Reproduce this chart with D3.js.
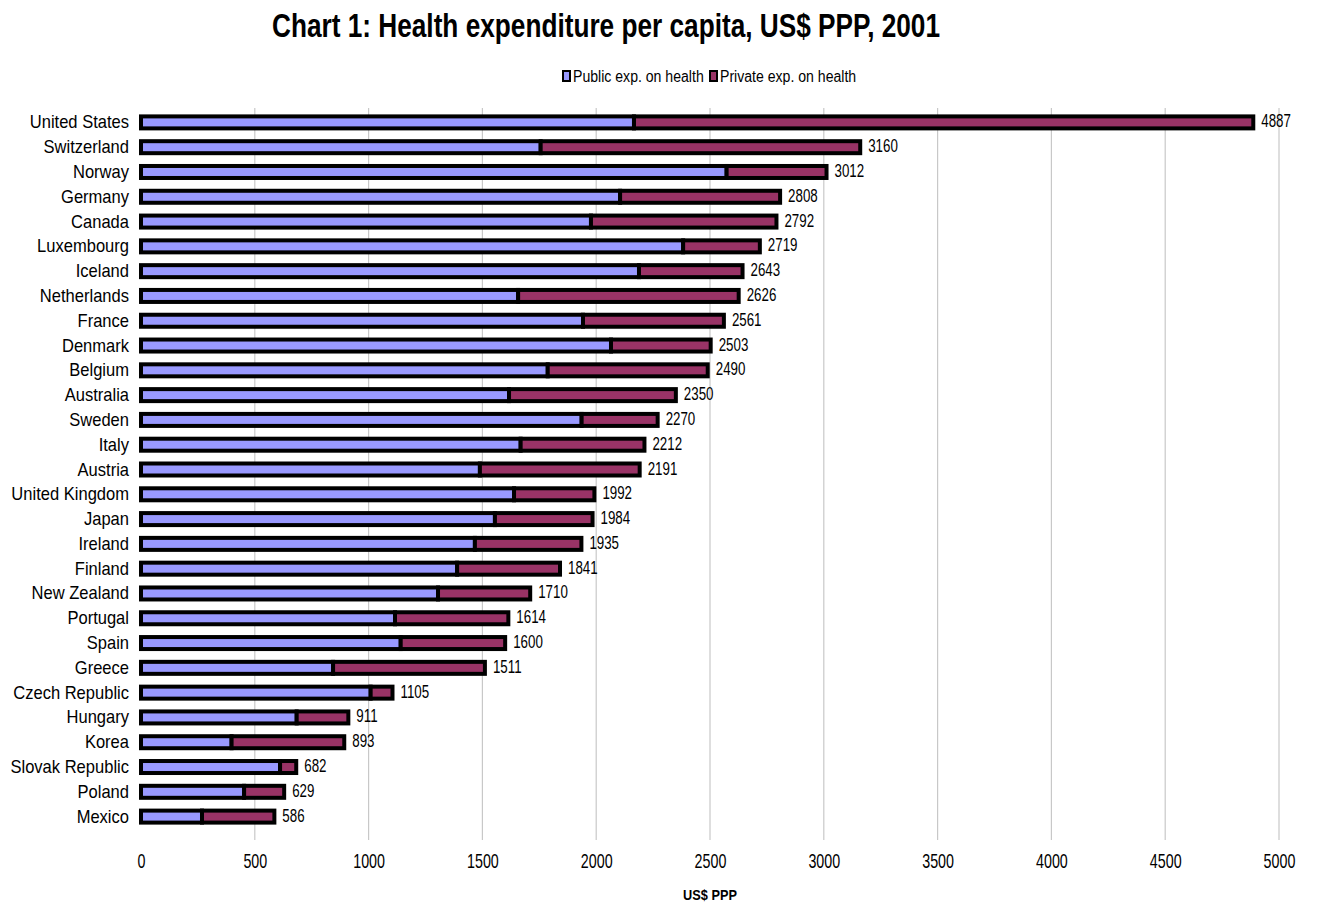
<!DOCTYPE html>
<html><head><meta charset="utf-8">
<script src="https://cdn.jsdelivr.net/npm/d3@7"></script>
<style>
body{margin:0;background:#fff;}
text{font-family:"Liberation Sans","Arial",sans-serif;fill:#000;}
</style></head>
<body>
<svg id="c" width="1318" height="909"></svg>
<script>
const categories = ["United States","Switzerland","Norway","Germany","Canada","Luxembourg","Iceland","Netherlands","France","Denmark","Belgium","Australia","Sweden","Italy","Austria","United Kingdom","Japan","Ireland","Finland","New Zealand","Portugal","Spain","Greece","Czech Republic","Hungary","Korea","Slovak Republic","Poland","Mexico"];
const totals = [4887,3160,3012,2808,2792,2719,2643,2626,2561,2503,2490,2350,2270,2212,2191,1992,1984,1935,1841,1710,1614,1600,1511,1105,911,893,682,629,586];
const publicExp = [2166,1756,2573,2105,1977,2382,2188,1657,1942,2065,1787,1617,1936,1668,1489,1639,1555,1467,1389,1305,1116,1141,844,1009,684,398,611,453,268];
const privateExp = totals.map((t,i)=>t-publicExp[i]);
const xTicks = [0,500,1000,1500,2000,2500,3000,3500,4000,4500,5000];
const seriesNames = ["Public exp. on health","Private exp. on health"];
const colors = ["#9999FF","#993366"];

const svg = d3.select("#c");
const x = d3.scaleLinear().domain([0,5000]).range([141,1279]);
const y = d3.scaleBand().domain(categories).range([110,829]);
const bh = 12;

function condense(sel, f){
  sel.each(function(){
    const w = this.getComputedTextLength();
    d3.select(this).attr("textLength", w*f).attr("lengthAdjust","spacingAndGlyphs");
  });
}

const title = svg.append("text").attr("x",606).attr("y",37).attr("text-anchor","middle")
  .style("font-size","34px").style("font-weight","bold")
  .text("Chart 1: Health expenditure per capita, US$ PPP, 2001");
title.attr("textLength",668).attr("lengthAdjust","spacingAndGlyphs");

// legend
const lg = svg.append("g");
const legX = [563,710];
seriesNames.forEach((n,i)=>{
  lg.append("rect").attr("x",legX[i]).attr("y",71).attr("width",7).attr("height",10)
    .attr("fill",colors[i]).attr("stroke","#000").attr("stroke-width",2);
  const t = lg.append("text").attr("x",legX[i]+10).attr("y",82).style("font-size","16px").text(n);
  condense(t, 0.88);
});

// gridlines
svg.append("g").selectAll("line").data(xTicks.slice(1)).join("line")
  .attr("x1",d=>x(d)).attr("x2",d=>x(d)).attr("y1",108).attr("y2",840)
  .attr("stroke","#c8c8c8").attr("stroke-width",1.2);

// x axis
const xa = svg.append("g").attr("transform","translate(0,868)")
  .call(d3.axisBottom(x).tickValues(xTicks).tickSize(0).tickPadding(0).tickFormat(d3.format("d")));
xa.select(".domain").remove();
xa.selectAll("text").style("font-size","21px").attr("dy","0").attr("y",0);
condense(xa.selectAll("text"), 0.68);

const xt = svg.append("text").attr("x",710).attr("y",900).attr("text-anchor","middle")
  .style("font-size","15px").style("font-weight","bold").text("US$ PPP");
condense(xt, 0.85);

// y labels
const ya = svg.append("g").attr("transform","translate(129,0)")
  .call(d3.axisLeft(y).tickSize(0).tickPadding(0));
ya.select(".domain").remove();
ya.selectAll("text").style("font-size","19px").attr("dy","0").attr("y",6);
condense(ya.selectAll("text"), 0.87);

// bars
const g = svg.append("g");
g.selectAll("rect.pub").data(categories).join("rect").attr("class","pub")
  .attr("x",x(0)).attr("y",d=>y(d)+y.bandwidth()/2-bh/2)
  .attr("width",(d,i)=>x(publicExp[i])-x(0)).attr("height",bh)
  .attr("fill",colors[0]).attr("stroke","#000").attr("stroke-width",4);
g.selectAll("rect.priv").data(categories).join("rect").attr("class","priv")
  .attr("x",(d,i)=>x(publicExp[i])).attr("y",d=>y(d)+y.bandwidth()/2-bh/2)
  .attr("width",(d,i)=>x(publicExp[i]+privateExp[i])-x(publicExp[i])).attr("height",bh)
  .attr("fill",colors[1]).attr("stroke","#000").attr("stroke-width",4);

// value labels
const vl = g.selectAll("text.val").data(categories).join("text").attr("class","val")
  .attr("x",(d,i)=>x(totals[i])+8).attr("y",d=>y(d)+y.bandwidth()/2+5)
  .style("font-size","18px").text((d,i)=>totals[i]);
condense(vl, 0.74);
</script>
</body></html>
